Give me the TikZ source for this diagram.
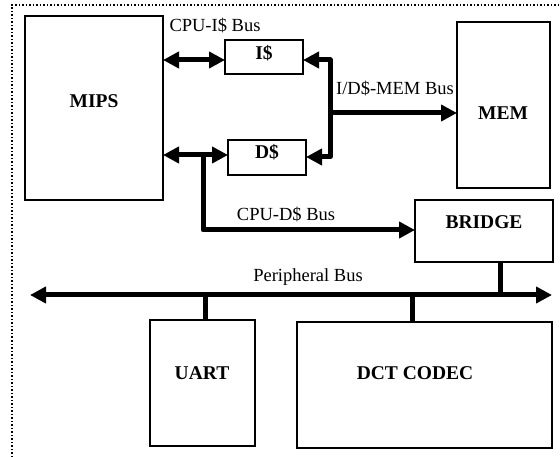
\documentclass[tikz,border=0pt]{standalone}
\usepackage{fontspec}
\setmainfont{Liberation Serif}
\usetikzlibrary{arrows.meta}
\begin{document}
\begin{tikzpicture}[x=1pt,y=-1pt,
  blk/.style={draw,line width=2.6pt,inner sep=0pt},
  blabel/.style={font=\fontsize{19.5}{19.5}\selectfont\bfseries},
  lbl/.style={font=\fontsize{18.5}{18.5}\selectfont,inner sep=0pt},
  bus/.style={line width=5pt,line join=round},
  tip/.style={-{Triangle[length=16pt,width=16pt]}},
  dtip/.style={{Triangle[length=16pt,width=16pt]}-{Triangle[length=16pt,width=16pt]}}]
\useasboundingbox (0,0) rectangle (560,457);
% border
\draw[line width=1.5pt,dotted] (12,457) -- (12,5) -- (560,5);
% blocks
\draw[blk] (25,16) rectangle (163,200);
\node[blabel] (mips) at (94,101) {MIPS};
\draw[blk] (225,40) rectangle (303,74);
\node[blabel] (icache) at (264,53) {I\$};
\coordinate (iw) at (225,60); \coordinate (ie) at (303,60);
\draw[blk] (228,140) rectangle (306,175);
\node[blabel] (dcache) at (267,152) {D\$};
\coordinate (dw) at (228,155); \coordinate (de) at (306,157);
\draw[blk] (457,22) rectangle (550,188);
\node[blabel] (mem) at (503,113) {MEM};
\coordinate (mw) at (457,113);
\draw[blk] (415,200) rectangle (553,262);
\node[blabel] (bridge) at (484,222) {BRIDGE};
\coordinate (bw) at (415,230); \coordinate (bs) at (500,262);
\draw[blk] (150,320) rectangle (255,446);
\node[blabel] (uart) at (202,373) {UART};
\coordinate (un) at (205,320);
\draw[blk] (297,322) rectangle (552,448);
\node[blabel] (dct) at (415,373) {DCT CODEC};
\coordinate (dn) at (412,322);
% MIPS side coordinates
\coordinate (mi) at (163,60); \coordinate (md) at (163,155);
\coordinate (jd) at (203,155);
\coordinate (jm) at (330,113);
\coordinate (pl) at (30,295); \coordinate (pr) at (552,295);
% buses
\draw[bus,dtip] (mi) -- (iw);
\draw[bus,dtip] (md) -- (dw);
\draw[bus,tip] (jm) |- (ie);
\draw[bus,tip] (jm) |- (de);
\draw[bus,tip] (jm) -- (mw);
\draw[bus,tip] (jd) |- (bw);
\draw[bus,dtip] (pl) -- (pr);
\draw[bus] (un) -- (un |- pl);
\draw[bus] (dn) -- (dn |- pl);
\draw[bus] (bs) -- (bs |- pl);
% labels
\node[lbl] (l1) at (215,26) {CPU-I\$ Bus};
\node[lbl] (l2) at (395,89) {I/D\$-MEM Bus};
\node[lbl] (l3) at (286,215) {CPU-D\$ Bus};
\node[lbl] (l4) at (308,277) {Peripheral Bus};
\end{tikzpicture}
\end{document}
